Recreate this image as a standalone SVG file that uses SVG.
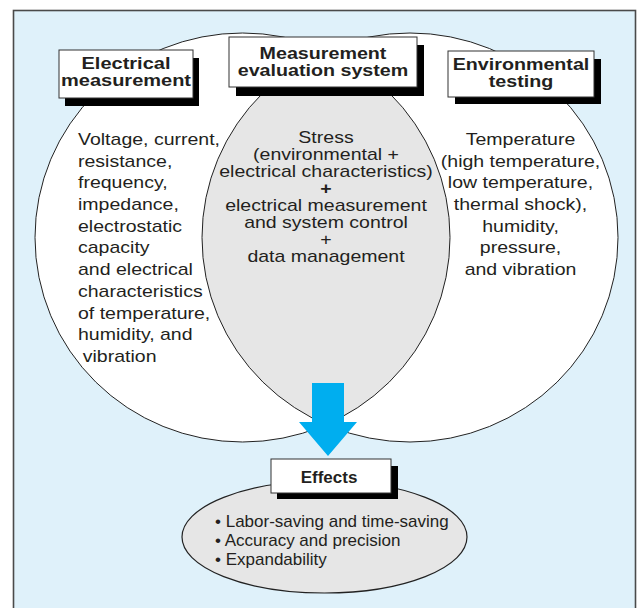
<svg xmlns="http://www.w3.org/2000/svg" width="640" height="608" viewBox="0 0 640 608">
<style>
.t{font-family:"Liberation Sans",Arial,sans-serif;fill:#231f20;font-size:16.4px}
.b{font-weight:bold}
.h{font-size:16.4px}
.box{fill:#fff;stroke:#333;stroke-width:1}
.sh{fill:#000}
.c{stroke:#222;stroke-width:1;fill:none}
</style>
<defs>
<clipPath id="clipL"><ellipse cx="242.5" cy="237.5" rx="207.5" ry="204.5"/></clipPath>
</defs>
<rect x="0" y="0" width="640" height="608" fill="#fff"/>
<rect id="panel" x="13.5" y="10.5" width="622" height="610" fill="#dff1fa" stroke="#4a4a4a" stroke-width="1.6"/>
<g id="venn">
<ellipse cx="242.5" cy="237.5" rx="207.5" ry="204.5" fill="#fff"/>
<ellipse cx="410" cy="237.5" rx="208" ry="204.5" fill="#fff"/>
<ellipse cx="410" cy="237.5" rx="208" ry="204.5" fill="#e6e6e6" clip-path="url(#clipL)"/>
<ellipse class="c" cx="242.5" cy="237.5" rx="207.5" ry="204.5"/>
<ellipse class="c" cx="410" cy="237.5" rx="208" ry="204.5"/>
</g>
<g id="effects-area">
<ellipse cx="324.5" cy="537" rx="142.5" ry="56" fill="#e6e6e6" stroke="#222" stroke-width="1.2"/>
</g>
<g id="connectors">
<polygon points="312,383 344,383 344,422 357,422 328,456 299,422 312,422" fill="#00aeef"/>
</g>
<g id="electrical">
<rect class="sh" x="65" y="58" width="134" height="48"/>
<rect class="box" x="59" y="50" width="134" height="48"/>
<g transform="translate(126,0) scale(1.22,1)">
<text class="t b h" text-anchor="middle"><tspan x="0" y="69.5">Electrical</tspan><tspan x="0" y="86.5">measurement</tspan></text>
</g>
<g transform="translate(78,0) scale(1.19,1)">
<text class="t"><tspan x="0" y="145">Voltage, current,</tspan><tspan x="0" y="166.7">resistance,</tspan><tspan x="0" y="188.4">frequency,</tspan><tspan x="0" y="210.1">impedance,</tspan><tspan x="0" y="231.8">electrostatic</tspan><tspan x="0" y="253.5">capacity</tspan><tspan x="0" y="275.2">and electrical</tspan><tspan x="0" y="296.9">characteristics</tspan><tspan x="0" y="318.6">of temperature,</tspan><tspan x="0" y="340.3">humidity, and</tspan><tspan x="4" y="362">vibration</tspan></text>
</g>
</g>
<g id="system">
<rect class="sh" x="236" y="45" width="188" height="51"/>
<rect class="box" x="229" y="37" width="188" height="50"/>
<g transform="translate(323,0) scale(1.2,1)">
<text class="t b h" text-anchor="middle"><tspan x="0" y="59.5">Measurement</tspan><tspan x="0" y="76.5">evaluation system</tspan></text>
</g>
<g transform="translate(326,0) scale(1.19,1)">
<text class="t" text-anchor="middle"><tspan x="0" y="143">Stress</tspan><tspan x="0" y="160">(environmental +</tspan><tspan x="0" y="177">electrical characteristics)</tspan><tspan x="0" y="194" font-weight="bold">+</tspan><tspan x="0" y="211">electrical measurement</tspan><tspan x="0" y="228">and system control</tspan><tspan x="0" y="245.5">+</tspan><tspan x="0" y="262">data management</tspan></text>
</g>
</g>
<g id="environmental">
<rect class="sh" x="455" y="59" width="146" height="45"/>
<rect class="box" x="448" y="51" width="146" height="46"/>
<g transform="translate(521,0) scale(1.2,1)">
<text class="t b h" text-anchor="middle"><tspan x="0" y="70">Environmental</tspan><tspan x="0" y="87">testing</tspan></text>
</g>
<g transform="translate(520.5,0) scale(1.19,1)">
<text class="t" text-anchor="middle"><tspan x="0" y="145">Temperature</tspan><tspan x="0" y="166.7">(high temperature,</tspan><tspan x="0" y="188.4">low temperature,</tspan><tspan x="0" y="210.1">thermal shock),</tspan><tspan x="0" y="231.8">humidity,</tspan><tspan x="0" y="253.5">pressure,</tspan><tspan x="0" y="275.2">and vibration</tspan></text>
</g>
</g>
<g id="effects">
<rect class="sh" x="277" y="466" width="121" height="33"/>
<rect class="box" x="271" y="459" width="120" height="34"/>
<text class="t b" x="329" y="483" text-anchor="middle" style="font-size:17px">Effects</text>
<text class="t" style="font-size:17px"><tspan x="215" y="527">• Labor-saving and time-saving</tspan><tspan x="215" y="546">• Accuracy and precision</tspan><tspan x="215" y="565">• Expandability</tspan></text>
</g>
</svg>
